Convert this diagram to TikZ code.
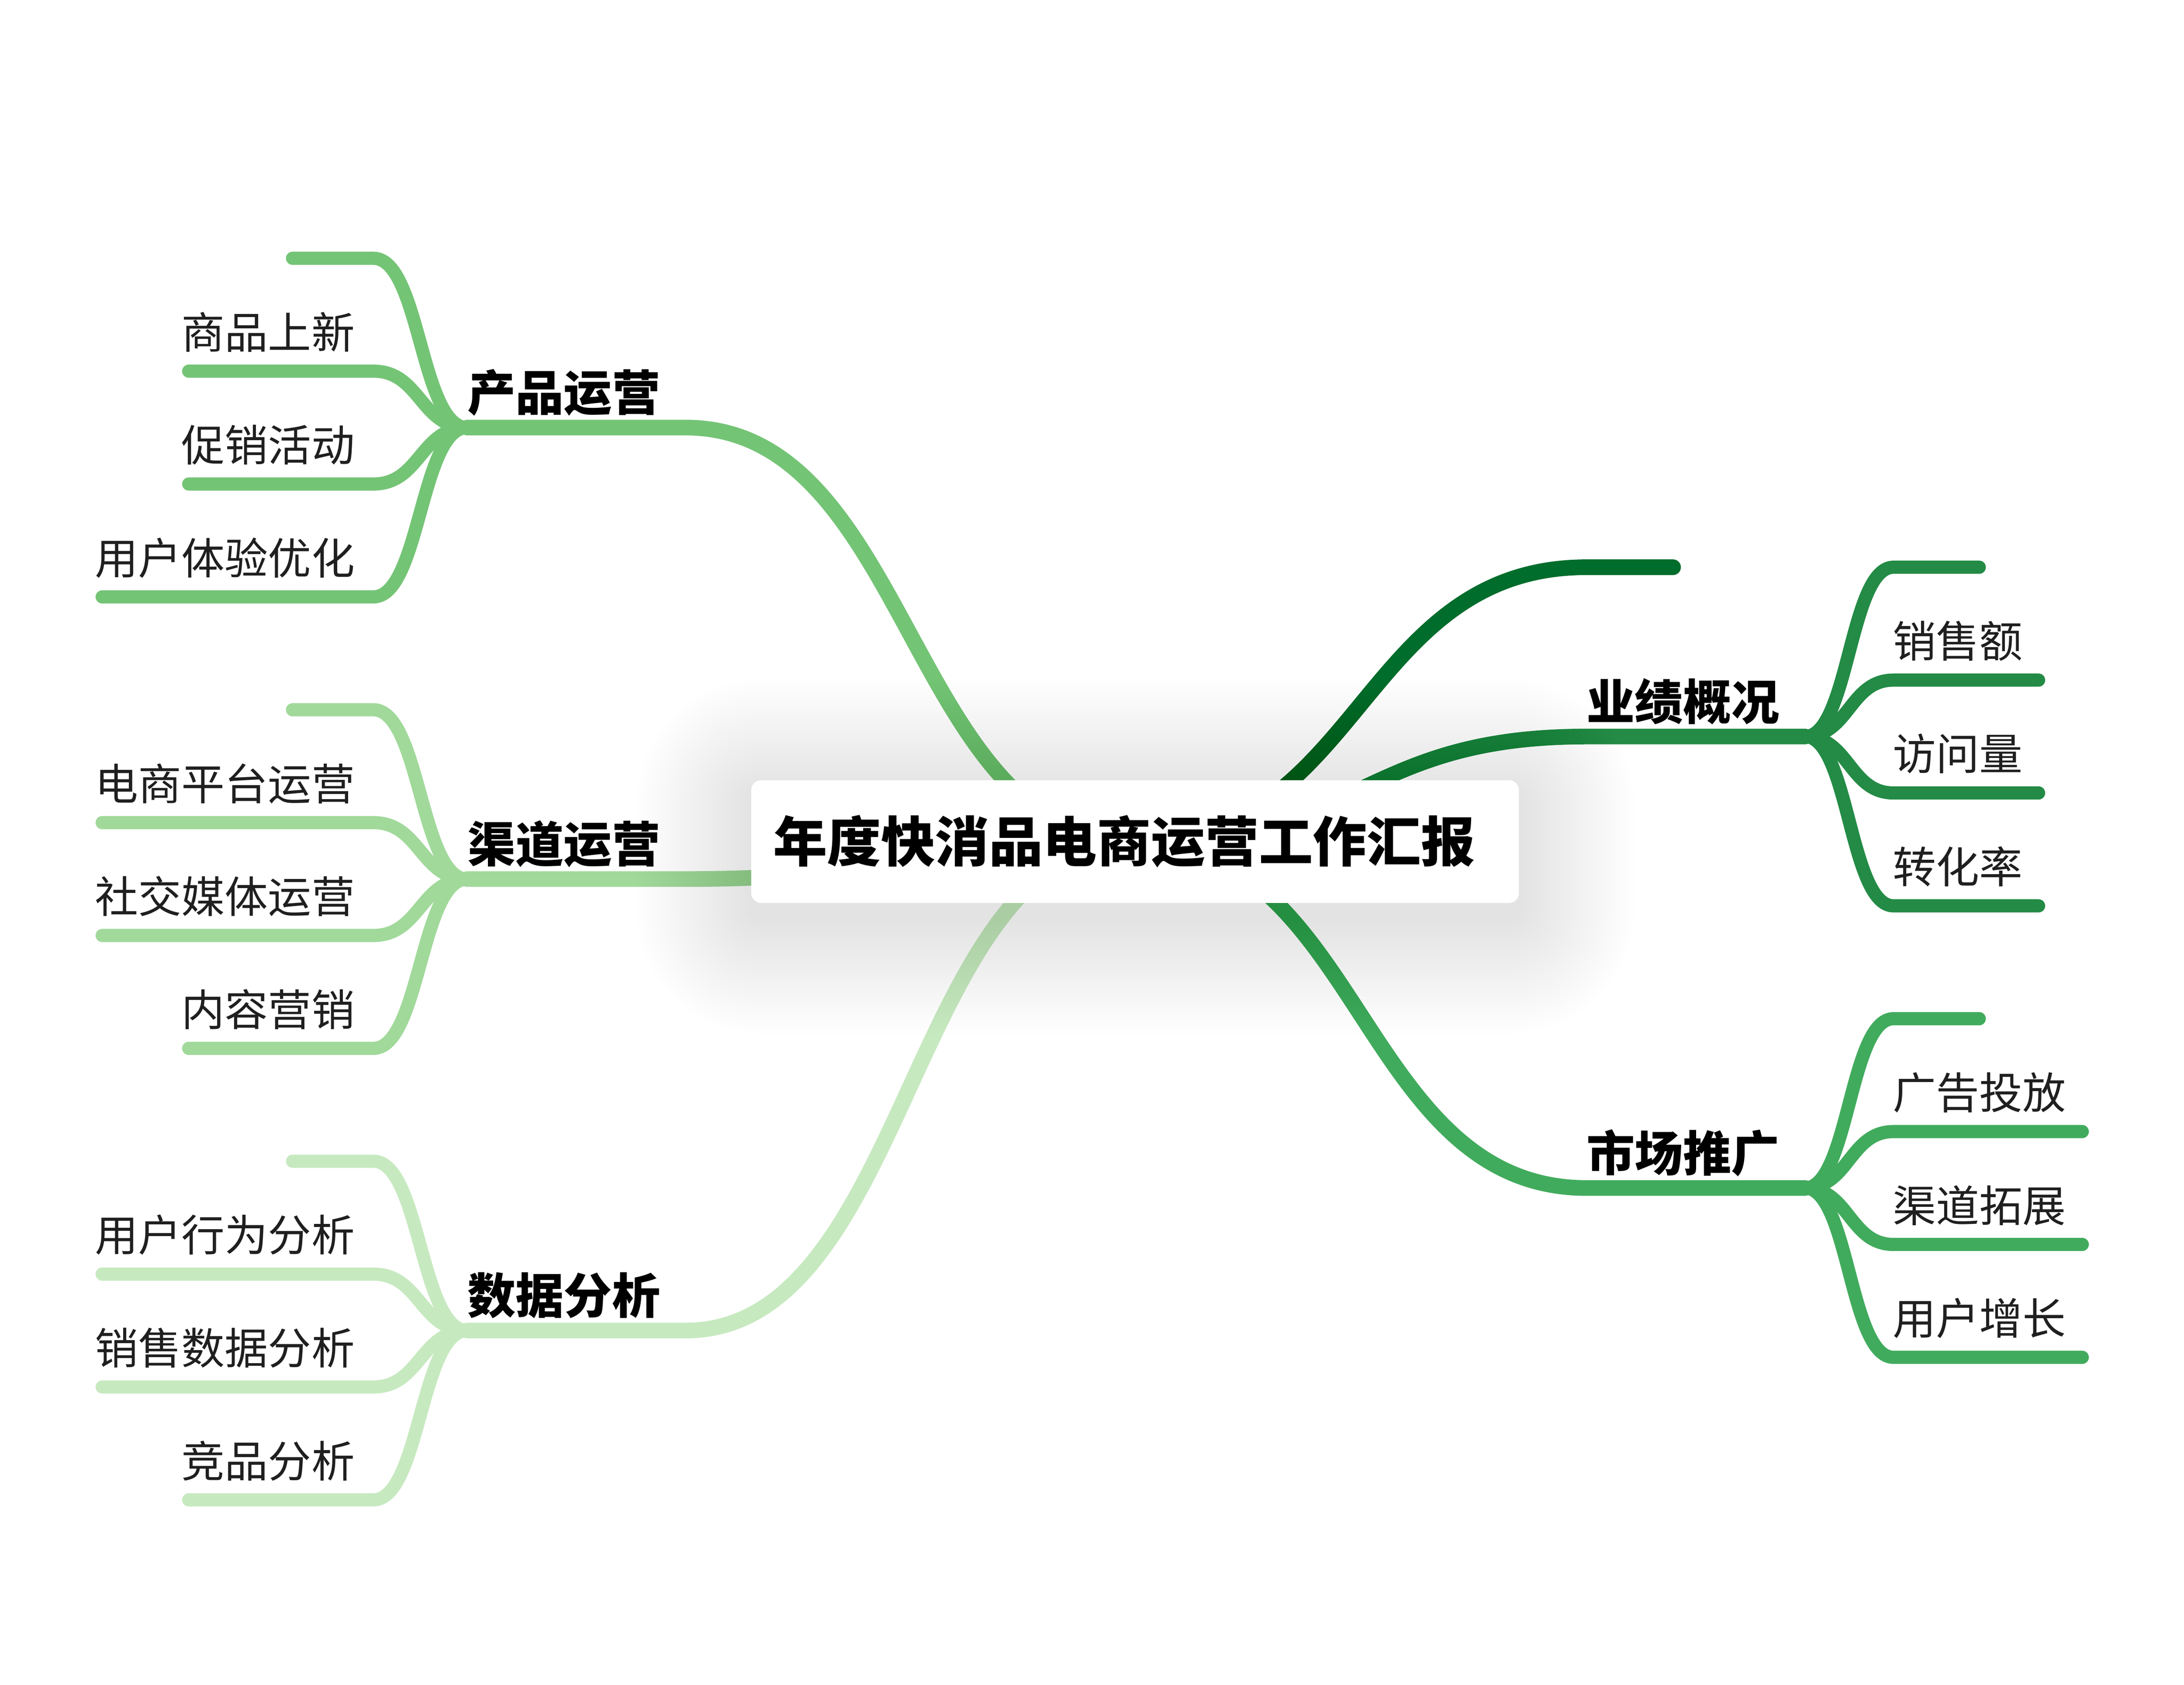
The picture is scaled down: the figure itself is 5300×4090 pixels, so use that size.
\documentclass[tikz,border=0pt]{standalone}
\usepackage{fontspec}
\newfontfamily\cjk{Noto Sans CJK SC}
\usetikzlibrary{calc}
\definecolor{gA}{HTML}{74C476}
\definecolor{gB}{HTML}{A1D99B}
\definecolor{gC}{HTML}{C7E9C0}
\definecolor{gD}{HTML}{006D2C}
\definecolor{gE}{HTML}{238B45}
\definecolor{gF}{HTML}{41AB5D}
\begin{document}
\begin{tikzpicture}[x=1pt,y=-1pt,
  mainline/.style={line width=38pt, line cap=round},
  subline/.style={line width=32pt, line cap=round},
  sublabel/.style={font=\cjk\fontsize{105}{126}\selectfont, text=black!88, inner sep=0pt},
  mainlabel/.style={font=\cjk\bfseries\fontsize{117}{140}\selectfont, text=black, inner sep=0pt},
  rootlabel/.style={font=\cjk\bfseries\fontsize{131}{157}\selectfont, text=black, inner sep=0pt},
  rootbox/.style={fill=white, rounded corners=24pt, inner sep=0pt, minimum width=1863pt, minimum height=298pt}]
\useasboundingbox[fill=white] (0,0) rectangle (5300,4090);

% root
\coordinate (R) at (2754,2043);

% ---------- left main branches ----------
\coordinate (A1) at (1134,1038); \coordinate (A2) at (1664,1038);
\coordinate (B1) at (1134,2134); \coordinate (B2) at (1664,2134);
\coordinate (C1) at (1134,3230); \coordinate (C2) at (1664,3230);
\draw[mainline, gA] (A1) -- (A2) .. controls +(545,0) and +(-545,0) .. (R);
\draw[mainline, gB] (B1) -- (B2) .. controls +(545,0) and +(-545,0) .. (R);
\draw[mainline, gC] (C1) -- (C2) .. controls +(545,0) and +(-545,0) .. (R);

% ---------- right main branches ----------
\coordinate (D1) at (3850,1377); \coordinate (D2) at (4060,1377);
\coordinate (E1) at (3850,1788); \coordinate (E2) at (4380,1788);
\coordinate (F1) at (3850,2884); \coordinate (F2) at (4380,2884);
\draw[mainline, gD] (R) .. controls +(548,0) and +(-548,0) .. (D1) -- (D2);
\draw[mainline, gE] (R) .. controls +(548,0) and +(-548,0) .. (E1) -- (E2);
\draw[mainline, gF] (R) .. controls +(548,0) and +(-548,0) .. (F1) -- (F2);

% ---------- left sub branches ----------
\foreach \g/\c/\m in {A/gA/1038, B/gB/2134, C/gC/3230}{
  \foreach \dy/\lx [count=\i] in {-411/710, -137/458, 137/458, 411/458}{
    \coordinate (\g-s\i) at (\lx,\m+\dy);
    \coordinate (\g-e\i) at (906,\m+\dy);
  }
}
% left ends of six-character labels
\coordinate (A-s4) at (248,1449);
\coordinate (B-s2) at (248,1997);
\coordinate (B-s3) at (248,2271);
\coordinate (C-s2) at (248,3093);
\coordinate (C-s3) at (248,3367);
\foreach \g/\c in {A/gA, B/gB, C/gC}{
  \foreach \i in {1,...,4}{
    \draw[subline, \c] (\g-s\i) -- (\g-e\i) .. controls +(114,0) and +(-114,0) .. (\g1);
  }
}

% ---------- right sub branches ----------
\foreach \g/\c/\m in {E/gE/1788, F/gF/2884}{
  \foreach \dy [count=\i] in {-411, -137, 137, 411}{
    \coordinate (\g-s\i) at (4595,\m+\dy);
  }
}
\coordinate (E-e1) at (4803,1377);
\coordinate (E-e2) at (4947,1651);
\coordinate (E-e3) at (4947,1925);
\coordinate (E-e4) at (4947,2199);
\coordinate (F-e1) at (4803,2473);
\coordinate (F-e2) at (5053,2747);
\coordinate (F-e3) at (5053,3021);
\coordinate (F-e4) at (5053,3295);
\foreach \g/\c in {E/gE, F/gF}{
  \foreach \i in {1,...,4}{
    \draw[subline, \c] (\g2) .. controls +(107,0) and +(-107,0) .. (\g-s\i) -- (\g-e\i);
  }
}

% ---------- root shadow and box ----------
\foreach \i in {1,...,28}{
  \pgfmathsetmacro{\rr}{24+\i*10}
  \fill[black, opacity=0.0021, rounded corners=\rr pt]
    (1823-\i*10, 1893-\i*10+36) rectangle (3686+\i*10, 2193+\i*10+36);
}
\node[rootbox] (rootbox) at (2754.5,2043) {};
\node[rootlabel, anchor=west] (root) at (1876,2043) {年度快消品电商运营工作汇报};

% ---------- main labels ----------
\node[mainlabel, anchor=west] (lA) at (1134,1038-85) {产品运营};
\node[mainlabel, anchor=west] (lB) at (1134,2134-85) {渠道运营};
\node[mainlabel, anchor=west] (lC) at (1134,3230-85) {数据分析};
\node[mainlabel, anchor=west] (lE) at (3850,1788-85) {业绩概况};
\node[mainlabel, anchor=west] (lF) at (3850,2884-85) {市场推广};

% ---------- sub labels ----------
\node[sublabel, anchor=east] (tA2) at (861,901-95) {商品上新};
\node[sublabel, anchor=east] (tA3) at (861,1175-95) {促销活动};
\node[sublabel, anchor=east] (tA4) at (861,1449-95) {用户体验优化};
\node[sublabel, anchor=east] (tB2) at (861,1997-95) {电商平台运营};
\node[sublabel, anchor=east] (tB3) at (861,2271-95) {社交媒体运营};
\node[sublabel, anchor=east] (tB4) at (861,2545-95) {内容营销};
\node[sublabel, anchor=east] (tC2) at (861,3093-95) {用户行为分析};
\node[sublabel, anchor=east] (tC3) at (861,3367-95) {销售数据分析};
\node[sublabel, anchor=east] (tC4) at (861,3641-95) {竞品分析};
\node[sublabel, anchor=west] (tE2) at (4593,1651-95) {销售额};
\node[sublabel, anchor=west] (tE3) at (4593,1925-95) {访问量};
\node[sublabel, anchor=west] (tE4) at (4593,2199-95) {转化率};
\node[sublabel, anchor=west] (tF2) at (4593,2747-95) {广告投放};
\node[sublabel, anchor=west] (tF3) at (4593,3021-95) {渠道拓展};
\node[sublabel, anchor=west] (tF4) at (4593,3295-95) {用户增长};
\end{tikzpicture}
\end{document}
